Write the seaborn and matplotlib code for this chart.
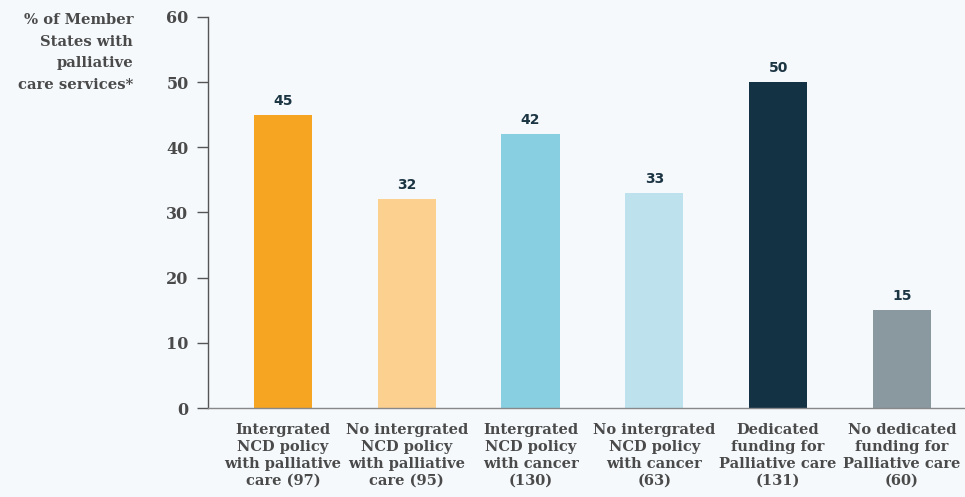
import matplotlib
matplotlib.use("Agg")
import matplotlib.pyplot as plt
import seaborn as sns
import pandas as pd

categories = [
    "Intergrated\nNCD policy\nwith palliative\ncare (97)",
    "No intergrated\nNCD policy\nwith palliative\ncare (95)",
    "Intergrated\nNCD policy\nwith cancer\n(130)",
    "No intergrated\nNCD policy\nwith cancer\n(63)",
    "Dedicated\nfunding for\nPalliative care\n(131)",
    "No dedicated\nfunding for\nPalliative care\n(60)",
]
values = [45, 32, 42, 33, 50, 15]
colors = ["#f6a522", "#fcd08f", "#89cfe2", "#bde2ee", "#133244", "#8a999f"]
y_ticks = [0, 10, 20, 30, 40, 50, 60]
y_title = "% of Member\nStates with\npalliative\ncare services*"

bg = "#f5f9fc"
text_col = "#4a4a4a"
value_col = "#1c3543"

sns.set_theme(style="white")
plt.rcParams["font.family"] = ["DejaVu Serif"]

df = pd.DataFrame({"category": categories, "value": values})

fig = plt.figure(figsize=(9.65, 4.97), dpi=100, facecolor=bg)
ax = fig.add_axes([0.2155, 0.179, 0.7845, 0.787])
ax.set_facecolor(bg)

sns.barplot(data=df, x="category", y="value", hue="category",
            palette=colors, legend=False, width=0.47, saturation=1,
            linewidth=0, ax=ax)

for patch, v in zip(ax.patches, values):
    ax.annotate(f"{v}", (patch.get_x() + patch.get_width() / 2, v),
                xytext=(0, 5), textcoords="offset points",
                ha="center", va="bottom", fontsize=10, fontweight="bold",
                color=value_col, family="DejaVu Sans")

ax.set_xlim(-0.606, 5.51)
ax.set_ylim(0, 60)
ax.set_yticks(y_ticks)
ax.set_yticklabels([str(t) for t in y_ticks], fontsize=11.5,
                   fontweight="bold", color=text_col)
ax.set_xticks(range(len(categories)))
ax.set_xticklabels(categories, fontsize=10.5, fontweight="bold",
                   color=text_col, linespacing=1.25, va="top")
ax.tick_params(axis="y", length=8, width=1, color="#555555", pad=6, left=True)
ax.tick_params(axis="x", length=0, pad=11)

ax.set_xlabel("")
ax.set_ylabel("")
for side in ["top", "right"]:
    ax.spines[side].set_visible(False)
ax.spines["left"].set_color("#555555")
ax.spines["bottom"].set_color("#888888")
ax.spines["left"].set_linewidth(1)
ax.spines["bottom"].set_linewidth(1)

fig.text(133 / 965, 1 - 13 / 497, y_title, ha="right", va="top",
         fontsize=10.6, fontweight="bold", color=text_col, linespacing=1.7)

fig.savefig("out.png", dpi=100, facecolor=bg)
